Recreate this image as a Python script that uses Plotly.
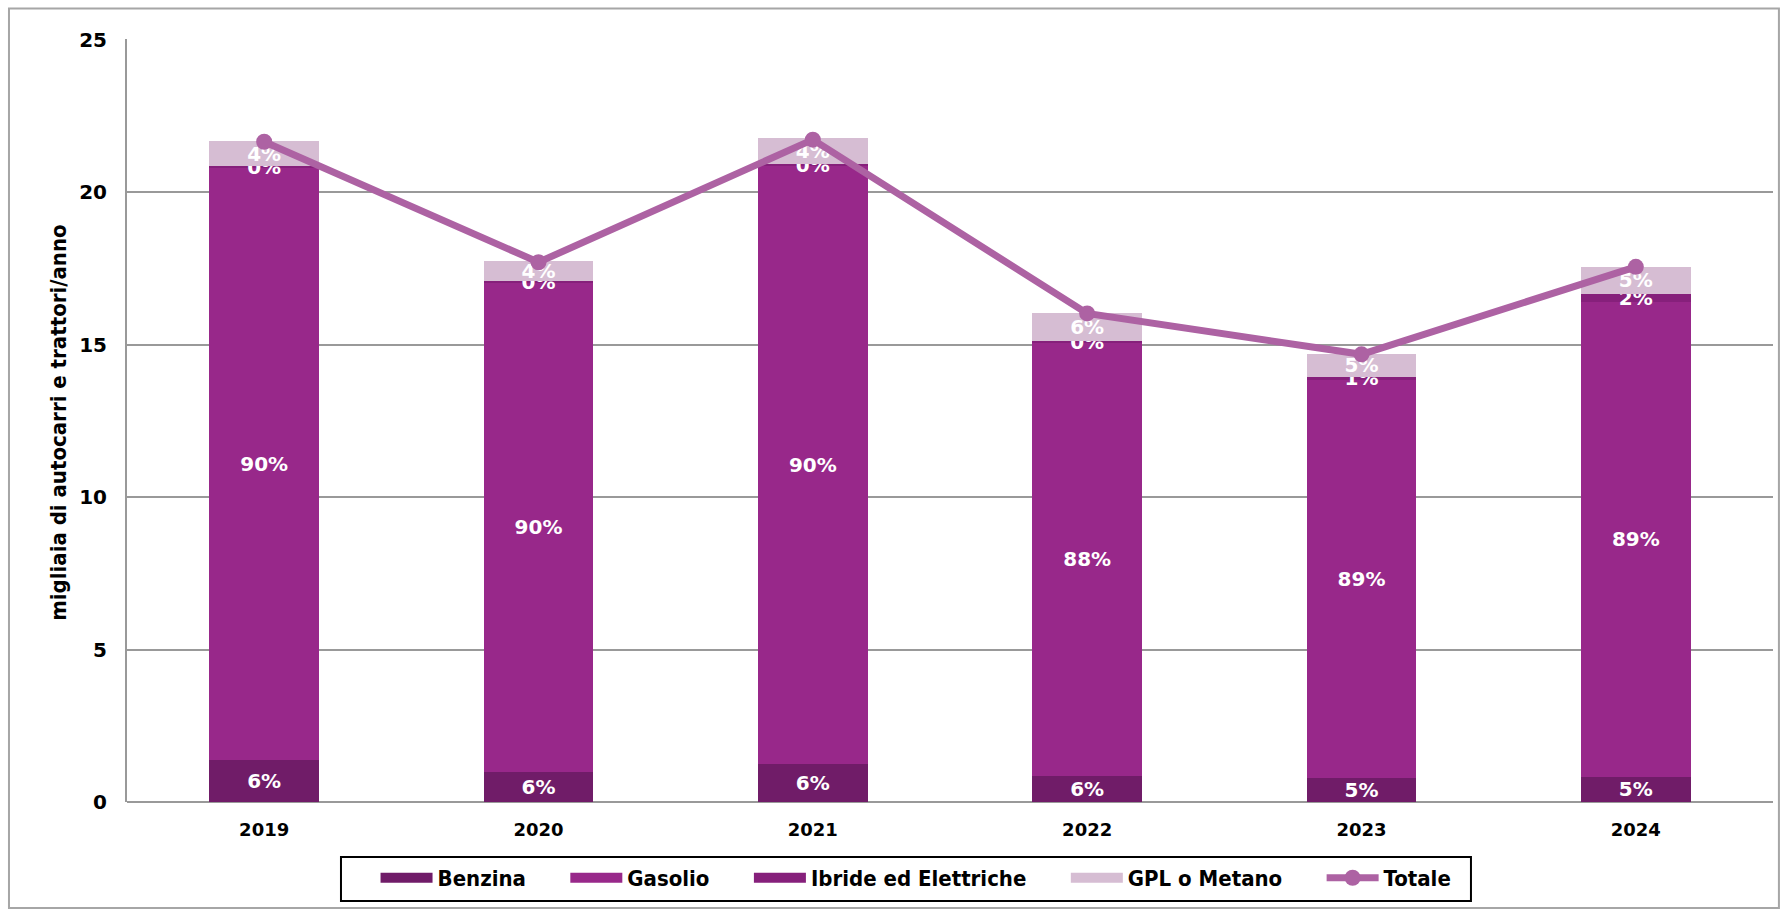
import plotly.graph_objects as go

years = ["2019", "2020", "2021", "2022", "2023", "2024"]
benzina = [1.38, 1.00, 1.23, 0.86, 0.78, 0.82]
gasolio = [19.42, 16.04, 19.64, 14.21, 13.06, 15.58]
ibride = [0.04, 0.03, 0.05, 0.05, 0.11, 0.27]
gpl = [0.85, 0.66, 0.84, 0.91, 0.75, 0.89]
totale = [21.65, 17.70, 21.72, 16.02, 14.68, 17.55]

lab_benzina = ["6%", "6%", "6%", "6%", "5%", "5%"]
lab_gasolio = ["90%", "90%", "90%", "88%", "89%", "89%"]
lab_ibride = ["0%", "0%", "0%", "0%", "1%", "2%"]
lab_gpl = ["4%", "4%", "4%", "6%", "5%", "5%"]

y_title = "migliaia di autocarri e trattori/anno"

C_BENZ = "#701c68"
C_GAS = "#98288a"
C_IBR = "#86207b"
C_GPL = "#d6bdd3"
C_TOT = "#ad62a3"

NARROW = "Liberation Sans Narrow, DejaVu Sans Condensed, Arial Narrow, sans-serif"
WIDE = "DejaVu Sans, Verdana, sans-serif"

lblfont = dict(family=WIDE, size=20, color="white", weight="bold")
PAD = "\u00a0" * 5  # spacing after each legend entry

series = [
    ("Benzina", benzina, lab_benzina, C_BENZ),
    ("Gasolio", gasolio, lab_gasolio, C_GAS),
    ("Ibride ed Elettriche", ibride, lab_ibride, C_IBR),
    ("GPL o Metano", gpl, lab_gpl, C_GPL),
]

fig = go.Figure()
for name, vals, labs, col in series:
    fig.add_trace(go.Bar(
        x=years, y=vals, name=name, marker=dict(color=col, line=dict(width=0)),
        text=labs, textposition="inside", insidetextanchor="middle",
        textangle=0, constraintext="none", textfont=lblfont,
        cliponaxis=False, hoverinfo="skip", showlegend=False, legendgroup=name,
    ))
    # legend entry drawn as a wide block, as in the reference
    fig.add_trace(go.Scatter(
        x=[None], y=[None], name=name + PAD, mode="lines", legendgroup=name,
        line=dict(color=col, width=13), showlegend=True,
    ))

fig.add_trace(go.Scatter(
    x=years, y=totale, name="Totale", mode="lines+markers",
    line=dict(color=C_TOT, width=7), marker=dict(color=C_TOT, size=16),
))

fig.update_layout(
    width=1782, height=910,
    barmode="stack", bargap=0.6,
    plot_bgcolor="white", paper_bgcolor="white",
    margin=dict(l=127, r=9, t=39, b=108),
    uniformtext=dict(minsize=20, mode="show"),
    showlegend=True,
    legend=dict(
        orientation="h", x=0.151, xanchor="left", y=-0.072, yanchor="top",
        borderwidth=0, bgcolor="rgba(0,0,0,0)",
        font=dict(family=NARROW, size=22, color="black", weight="bold"),
        itemwidth=52, traceorder="normal", itemsizing="trace",
    ),
    shapes=[
        dict(type="rect", xref="paper", yref="paper",
             x0=-0.0717, x1=1.0036, y0=-0.139, y1=1.040,
             line=dict(color="#a6a6a6", width=2), fillcolor="rgba(0,0,0,0)", layer="below"),
        # legend frame
        dict(type="rect", xref="paper", yref="paper",
             x0=0.130, x1=0.8165, y0=-0.1297, y1=-0.0721,
             line=dict(color="black", width=2), fillcolor="rgba(0,0,0,0)", layer="below"),
    ],
    annotations=[dict(text=y_title, xref="paper", yref="paper", x=-0.0413, y=0.497,
                      xanchor="center", yanchor="middle", textangle=-90, showarrow=False,
                      font=dict(family=NARROW, size=22, color="black", weight="bold"))],
)

fig.update_xaxes(
    showgrid=False, showline=False, ticks="", automargin=False, ticklabelstandoff=15,
    tickfont=dict(family=WIDE, size=18, color="black", weight="bold"),
)
fig.update_yaxes(
    range=[0, 25.02], tickvals=[0, 5, 10, 15, 20, 25], showgrid=True, gridcolor="#999999", gridwidth=2,
    showline=True, linecolor="#999999", linewidth=2, zeroline=True,
    zerolinecolor="#999999", zerolinewidth=2, ticks="", ticklabelstandoff=14, automargin=False,
    tickfont=dict(family=WIDE, size=20, color="black", weight="bold"),
)

fig.write_html("out.html", config={"displayModeBar": False},
               post_script="document.body.style.margin='0px';")
